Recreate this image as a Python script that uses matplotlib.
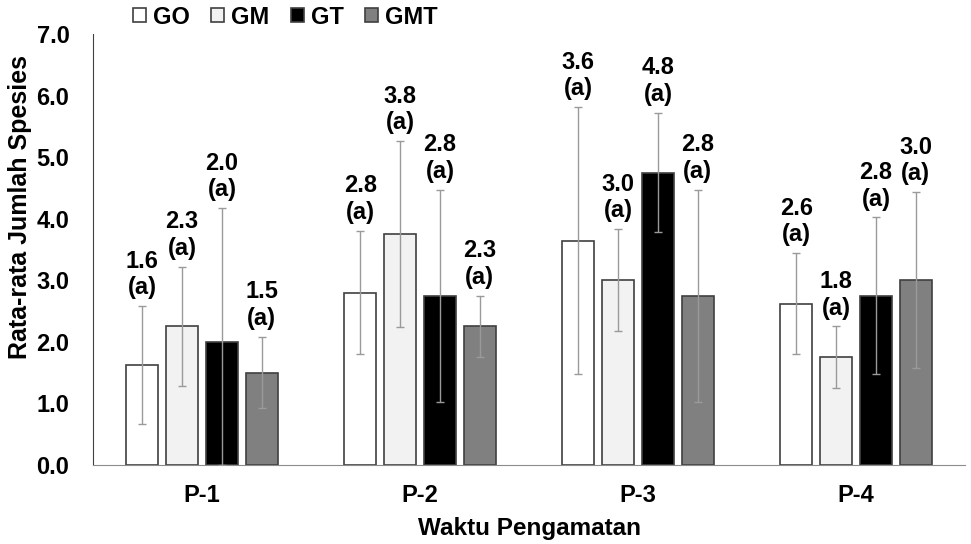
import matplotlib
matplotlib.use('Agg')
import matplotlib.pyplot as plt
import numpy as np

plt.rcParams['font.family'] = ['Liberation Sans', 'DejaVu Sans']
plt.rcParams['font.weight'] = 'bold'

periods = ['P-1', 'P-2', 'P-3', 'P-4']
series = ['GO', 'GM', 'GT', 'GMT']
means = {
    'GO': [1.62, 2.80, 3.64, 2.62],
    'GM': [2.25, 3.75, 3.00, 1.75],
    'GT': [2.00, 2.75, 4.75, 2.75],
    'GMT': [1.50, 2.25, 2.75, 3.00],
}
sds = {
    'GO': [0.96, 1.00, 2.17, 0.82],
    'GM': [0.97, 1.51, 0.83, 0.50],
    'GT': [2.17, 1.72, 0.97, 1.27],
    'GMT': [0.58, 0.50, 1.72, 1.43],
}
labels = {
    'GO': ['1.6', '2.8', '3.6', '2.6'],
    'GM': ['2.3', '3.8', '3.0', '1.8'],
    'GT': ['2.0', '2.8', '4.8', '2.8'],
    'GMT': ['1.5', '2.3', '2.8', '3.0'],
}
colors = {'GO': '#ffffff', 'GM': '#f2f2f2', 'GT': '#000000', 'GMT': '#808080'}

W, H = 971, 544
left, right, top, bottom = 93, 965, 34, 465
fig = plt.figure(figsize=(W / 100, H / 100), dpi=100)
ax = fig.add_axes([left / W, 1 - bottom / H, (right - left) / W, (bottom - top) / H])

x = np.arange(len(periods))
step = 0.183
width = 0.147
for i, s in enumerate(series):
    xs = x + (i - 1.5) * step
    m = np.array(means[s])
    e = np.array(sds[s])
    lower = np.minimum(e, m)
    ax.bar(xs, m, width, color=colors[s], edgecolor='#404040', linewidth=1.2,
           label=s, zorder=2)
    ax.errorbar(xs, m, yerr=[lower, e], fmt='none', ecolor='#9a9a9a',
                elinewidth=1.0, capsize=3, capthick=1.0, zorder=3)
    for xi, tp, lab in zip(xs, m + e, labels[s]):
        ax.annotate(lab + '\n(a)', (xi, tp), xytext=(0, 5),
                    textcoords='offset points', ha='center', va='bottom',
                    fontsize=17, fontweight='bold', linespacing=1.2)

ax.set_xlim(-0.5, 3.5)
ax.set_ylim(0, 7)
ax.set_yticks(np.arange(0, 7.5, 1.0))
ax.set_yticklabels(['%.1f' % v for v in np.arange(0, 7.5, 1.0)], fontsize=17,
                   fontweight='bold')
ax.set_xticks(x)
ax.set_xticklabels(periods, fontsize=17, fontweight='bold')
ax.tick_params(axis='y', length=0, pad=17)
ax.tick_params(axis='x', length=0, pad=14)
ax.spines['top'].set_visible(False)
ax.spines['right'].set_visible(False)
ax.spines['left'].set_color('#404040')
ax.spines['bottom'].set_color('#8c8c8c')

fig.text(20 / W, 1 - 207 / H, 'Rata-rata Jumlah Spesies', rotation=90,
         ha='center', va='center', fontsize=18, fontweight='bold')
fig.text((left + right) / 2 / W, 1 - 528 / H, 'Waktu Pengamatan',
         ha='center', va='center', fontsize=17.5, fontweight='bold')

leg = ax.legend(loc='center left', bbox_to_anchor=(40 / (right - left), 1 + 17 / (bottom - top)),
                ncol=4, frameon=False, fontsize=17, handlelength=0.55,
                handleheight=0.55, handletextpad=0.3, columnspacing=0.9,
                borderaxespad=0, borderpad=0)
for t in leg.get_texts():
    t.set_fontweight('bold')

fig.savefig('out.png', dpi=100)
